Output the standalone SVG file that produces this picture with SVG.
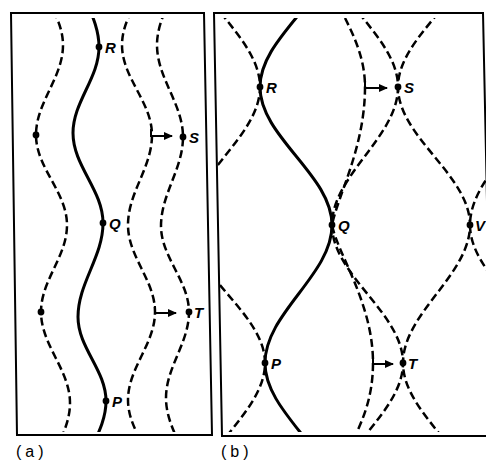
<svg xmlns="http://www.w3.org/2000/svg" width="486" height="464" viewBox="0 0 486 464">
<style>
.frame{fill:none;stroke:#000;stroke-width:2}
.solid{fill:none;stroke:#000;stroke-width:3;stroke-linecap:round}
.dash{fill:none;stroke:#000;stroke-width:2.5;stroke-dasharray:8 4}
.arr{fill:none;stroke:#000;stroke-width:2}
.dot{fill:#000}
.lbl{font-family:"Liberation Sans",Arial,sans-serif;font-style:italic;font-weight:bold;font-size:15px;fill:#000}
.cap{font-family:"Liberation Sans",Arial,sans-serif;font-size:16px;letter-spacing:4px;fill:#000}
</style>
<defs>
<clipPath id="clipA"><rect x="12" y="18" width="198" height="414"/></clipPath>
<clipPath id="clipB"><polygon points="216,18 486,18 486,432 221,432"/></clipPath>
<marker id="ah" markerUnits="userSpaceOnUse" markerWidth="9" markerHeight="8" refX="8" refY="4" orient="auto"><path d="M0,0 L9,4 L0,8 Z" fill="#000"/></marker>
</defs>
<rect width="486" height="464" fill="#fff"/>
<g id="frames">
<path class="frame" d="M11,13 L204,13 L212,435 L17,435 Z"/>
<path class="frame" d="M214,13 L483,13 L492,436 L222,436 Z"/>
</g>
<g id="curves-a" clip-path="url(#clipA)">
<path class="solid" d="M75,-41 C75,-9 99,15 99,47 C99,78 73,102 73,133 C73,166 103,190 103,223 C103,257 78,283 78,317 C78,348 106,370 106,401 C106,433 80,457 80,489"/>
<path class="dash" d="M33,-45 C33,-12 63,12 63,45 C63,78 36,102 36,135 C36,168 67,192 67,225 C67,257 41,280 41,312 C41,345 70,370 70,403 C70,435 45,458 45,490"/>
<path class="dash" d="M152,-45 C152,-12 122,12 122,45 C122,78 152,102 152,135 C152,168 128,192 128,225 C128,257 155,280 155,312 C155,344 128,368 128,400 C128,433 158,457 158,490"/>
<path class="dash" d="M183,-45 C183,-12 157,12 157,45 C157,78 183,104 183,137 C183,169 161,194 161,226 C161,257 189,281 189,312 C189,343 166,367 166,398 C166,431 192,455 192,488"/>
</g>
<g id="curves-b" clip-path="url(#clipB)">
<path class="solid" d="M332,-51 C332,-1 260,37 260,87 C260,137 332,175 332,225 C332,275 265,313 265,363 C265,413 335,451 335,501"/>
<path class="dash" d="M190,-51 C190,-1 260,37 260,87 C260,137 190,175 190,225 C190,275 265,313 265,363 C265,413 195,451 195,501"/>
<path class="dash" d="M345,18 C355,38 365,60 365,87 C365,147 338,195 332,225 C338,255 373,303 373,363 C373,398 362,420 357,432"/>
<path class="dash" d="M328,-51 C328,-1 398,37 398,87 C398,137 332,175 332,225 C332,275 403,313 403,363 C403,413 333,451 333,501"/>
<path class="dash" d="M470,-51 C470,-1 398,37 398,87 C398,137 470,175 470,225 C470,275 403,313 403,363 C403,413 473,451 473,501"/>
<path class="dash" d="M536,87 C536,137 470,175 470,225 C470,275 541,313 541,363"/>
</g>
<g id="connectors">
<path class="arr" d="M151,129 L151,136 L172,136" marker-end="url(#ah)"/>
<path class="arr" d="M155,306 L155,313 L176,313" marker-end="url(#ah)"/>
<path class="arr" d="M365,81 L365,88 L387,88" marker-end="url(#ah)"/>
<path class="arr" d="M373,357 L373,364 L393,364" marker-end="url(#ah)"/>
</g>
<g id="a-R"><circle class="dot" cx="99" cy="47" r="3.4"/><text class="lbl" x="105" y="53">R</text></g>
<g id="a-Q"><circle class="dot" cx="103" cy="223" r="3.4"/><text class="lbl" x="109" y="229">Q</text></g>
<g id="a-P"><circle class="dot" cx="106" cy="401" r="3.4"/><text class="lbl" x="112" y="407">P</text></g>
<g id="a-L1"><circle class="dot" cx="36" cy="135" r="3.4"/></g>
<g id="a-L2"><circle class="dot" cx="41" cy="312" r="3.4"/></g>
<g id="a-S"><circle class="dot" cx="183" cy="137" r="3.4"/><text class="lbl" x="189" y="143">S</text></g>
<g id="a-T"><circle class="dot" cx="189" cy="312" r="3.4"/><text class="lbl" x="194" y="318">T</text></g>
<g id="b-R"><circle class="dot" cx="260" cy="87" r="3.4"/><text class="lbl" x="266" y="93">R</text></g>
<g id="b-S"><circle class="dot" cx="398" cy="87" r="3.4"/><text class="lbl" x="404" y="93">S</text></g>
<g id="b-Q"><circle class="dot" cx="332" cy="225" r="3.4"/><text class="lbl" x="338" y="231">Q</text></g>
<g id="b-V"><circle class="dot" cx="470" cy="225" r="3.4"/><text class="lbl" x="475" y="231">V</text></g>
<g id="b-P"><circle class="dot" cx="265" cy="363" r="3.4"/><text class="lbl" x="271" y="369">P</text></g>
<g id="b-T"><circle class="dot" cx="403" cy="363" r="3.4"/><text class="lbl" x="408" y="369">T</text></g>
<text class="cap" x="16" y="457">(a)</text>
<text class="cap" x="221" y="457">(b)</text>
</svg>
